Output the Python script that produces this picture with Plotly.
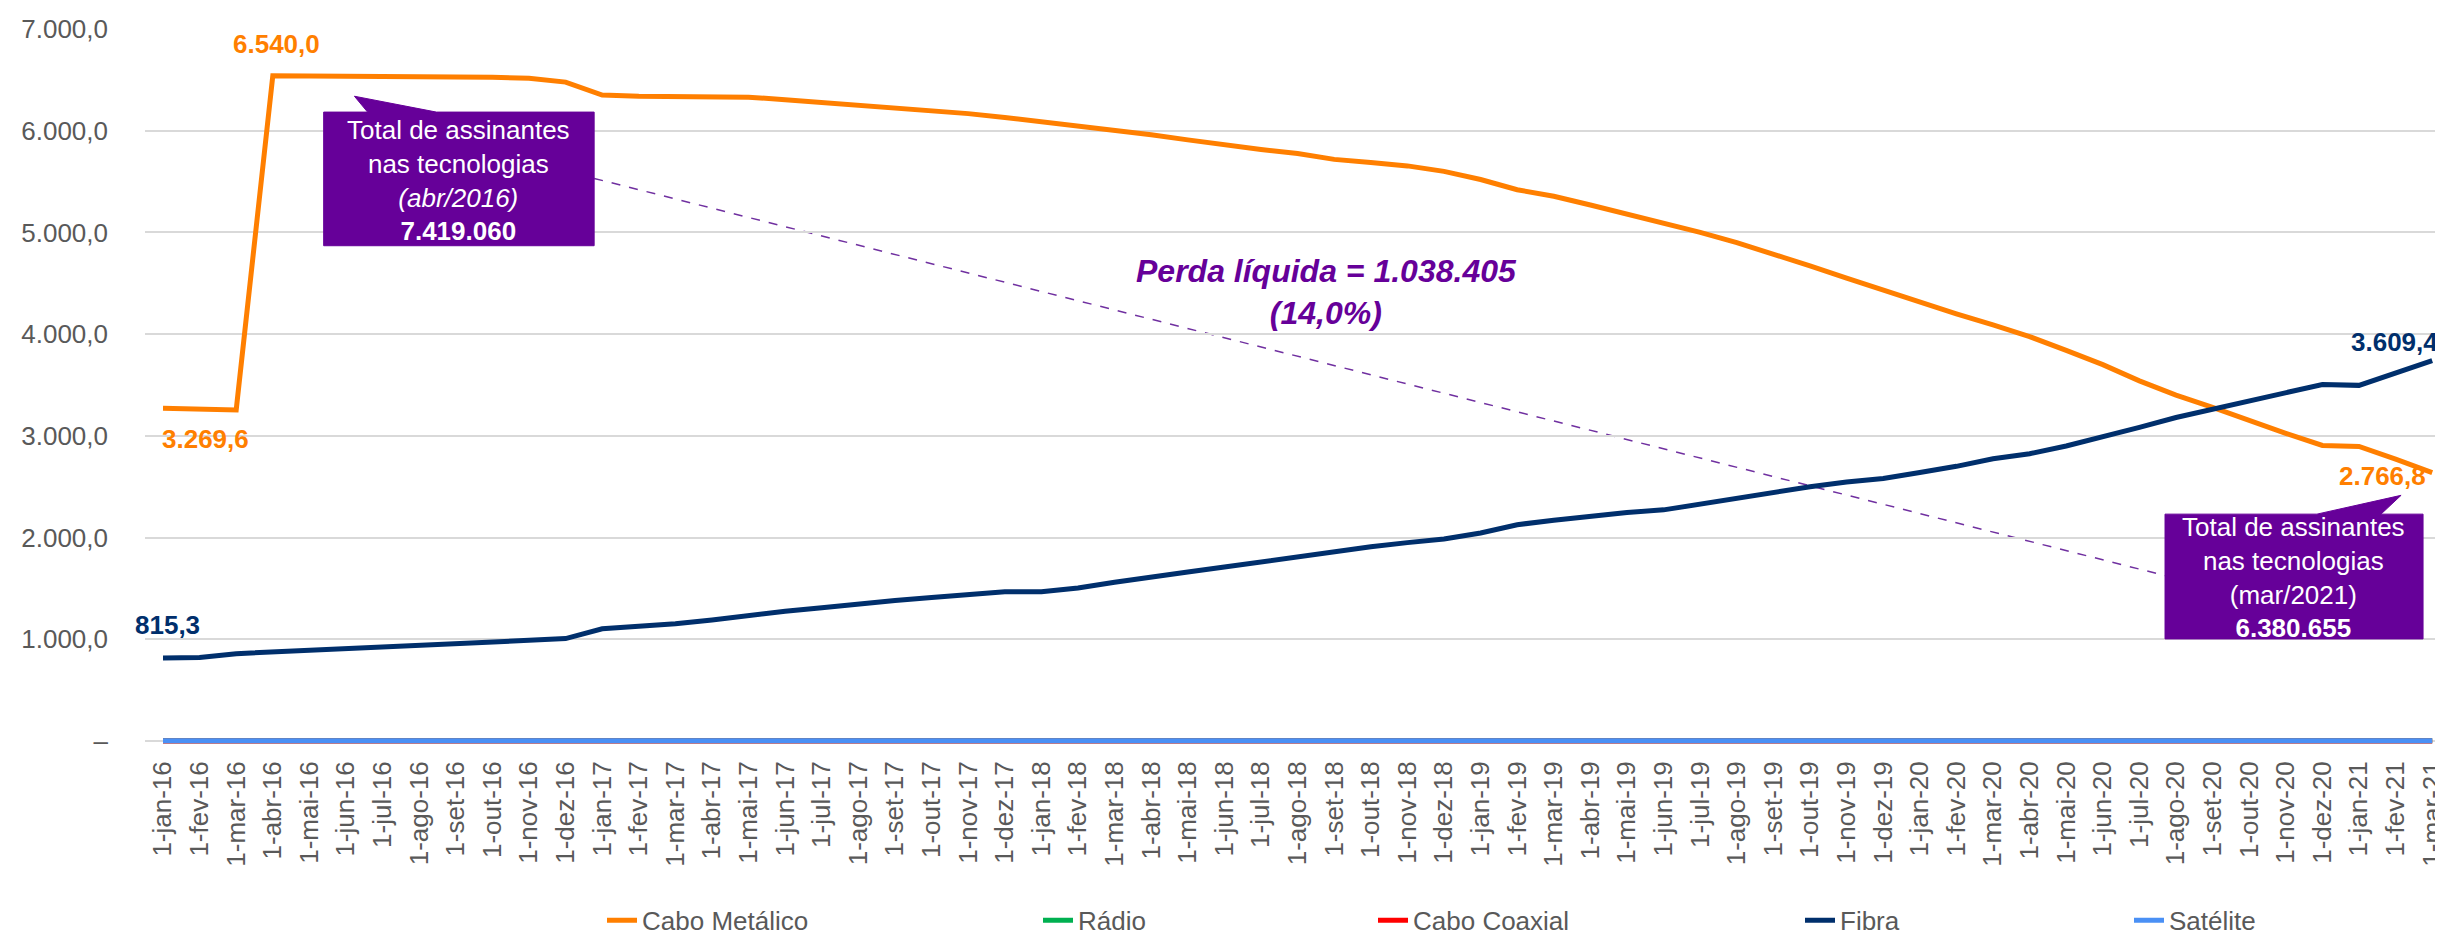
import plotly.graph_objects as go

# categories: monthly, jan/2016 .. mar/2021
months = ["jan", "fev", "mar", "abr", "mai", "jun", "jul", "ago", "set", "out", "nov", "dez"]
categories = [f"1-{m}-{y}" for y in range(16, 22) for m in months][:63]

# subscribers (thousands)
cabo_metalico = [
    3270, 3265, 3255, 6540, 6535, 6532, 6530, 6528, 6527, 6525, 6515, 6478,
    6350, 6338, 6336, 6340, 6330, 6305, 6280, 6255, 6230, 6200, 6168, 6130,
    6088, 6055, 6010, 5960, 5910, 5860, 5815, 5775, 5718, 5688, 5654, 5600,
    5520, 5420, 5355, 5270, 5180, 5100, 5000, 4900, 4790, 4670, 4550, 4430,
    4316, 4200, 4090, 3976, 3840, 3700, 3540, 3400, 3280, 3150, 3025, 2905,
    2895, 2770, 2639,
]
fibra = [
    815, 820, 858, 875, 888, 903, 920, 940, 960, 980, 995, 1006,
    1103, 1128, 1152, 1190, 1235, 1275, 1310, 1350, 1380, 1410, 1440, 1467,
    1467, 1503, 1560, 1616, 1660, 1710, 1760, 1815, 1870, 1910, 1950, 1986,
    2045, 2126, 2170, 2210, 2245, 2272, 2330, 2385, 2440, 2499, 2545, 2580,
    2640, 2700, 2775, 2824, 2900, 2986, 3083, 3180, 3262, 3340, 3424, 3505,
    3496, 3619, 3739,
]
radio = [2.0] * 63
cabo_coaxial = [0.5] * 63
satelite = [1.0] * 63

y_ticks = [0, 1000, 2000, 3000, 4000, 5000, 6000, 7000]
y_ticktext = ["–", "1.000,0", "2.000,0", "3.000,0", "4.000,0", "5.000,0", "6.000,0", "7.000,0"]

GRAY = "#595959"
PURPLE = "#660099"
FONT = "Liberation Sans, Arial, sans-serif"

series = [
    ("Cabo Metálico", cabo_metalico, "#FF7F00"),
    ("Rádio", radio, "#00B050"),
    ("Cabo Coaxial", cabo_coaxial, "#FF0000"),
    ("Fibra", fibra, "#002F6C"),
    ("Satélite", satelite, "#4A90F5"),
]
# left edge (px) of each legend entry
legend_px = [594, 1030, 1365, 1792, 2121]

W, H = 2443, 936
ML, MR, MT, MB = 137, 0, 21, 192
PW = W - ML - MR
PH = H - MT - MB
STEP = 36.6  # px per month
X0 = 18       # px from plot edge to first month

x = list(range(len(categories)))
fig = go.Figure()
for k, (name, vals, color) in enumerate(series):
    leg = "legend" if k == 0 else f"legend{k + 1}"
    fig.add_trace(go.Scatter(
        x=x, y=vals, name=name, mode="lines",
        line=dict(color=color, width=5),
        legend=leg,
    ))

legend_y = (744 - 921) / PH
for k, px in enumerate(legend_px):
    key = "legend" if k == 0 else f"legend{k + 1}"
    fig.update_layout({key: dict(
        x=(px - ML) / PW, y=legend_y, xanchor="left", yanchor="middle",
        orientation="h", bgcolor="rgba(0,0,0,0)",
        font=dict(size=26, color=GRAY, family=FONT),
    )})

# data labels
label_font = dict(size=26, family=FONT)
labels = [
    (3, 6540, "6.540,0", "#FF7F00", "center", 4, 32),
    (0, 3270, "3.269,6", "#FF7F00", "left", -3, -31),
    (0, 815, "815,3", "#002F6C", "center", 4, 33),
    (62, 3739, "3.609,4", "#002F6C", "right", 8, 19),
    (62, 2639, "2.766,8", "#FF7F00", "right", -4, -3),
]
for xi, yv, txt, col, anchor, dx, dy in labels:
    fig.add_annotation(
        x=xi, y=yv, text=f"<b>{txt}</b>", showarrow=False,
        xanchor=anchor, yanchor="middle", xshift=dx, yshift=dy,
        font=dict(color=col, **label_font),
    )

# callout boxes (data coordinates)
boxes = [
    dict(x0=4.39, x1=11.78, y0=4869, y1=6183, tip=(5.23, 6339), base=(5.59, 7.47),
         text="Total de assinantes<br>nas tecnologias<br><i>(abr/2016)</i><br><b>7.419.060</b>",
         tx=8.08, ty=5511),
    dict(x0=54.7, x1=61.75, y0=1003, y1=2230, tip=(61.15, 2415), base=(58.85, 60.6),
         text="Total de assinantes<br>nas tecnologias<br>(mar/2021)<br><b>6.380.655</b>",
         tx=58.2, ty=1611),
]
for b in boxes:
    bx0, bx1 = b["base"]
    tx_, ty_ = b["tip"]
    path = (f"M {b['x0']},{b['y0']} L {b['x0']},{b['y1']} L {bx0},{b['y1']} "
            f"L {tx_},{ty_} L {bx1},{b['y1']} L {b['x1']},{b['y1']} "
            f"L {b['x1']},{b['y0']} Z")
    fig.add_shape(type="path", path=path, xref="x", yref="y",
                  fillcolor=PURPLE, line=dict(color=PURPLE, width=1), layer="above")
    fig.add_annotation(x=b["tx"], y=b["ty"], text=b["text"], showarrow=False,
                       xanchor="center", yanchor="middle", align="center",
                       font=dict(size=26, color="white", family=FONT))

# dashed connector between boxes
fig.add_shape(type="line", xref="x", yref="y", x0=11.78, y0=5531, x1=54.7, y1=1626,
              line=dict(color="#7030A0", width=1.5, dash="dash"), layer="below")

fig.add_annotation(
    x=31.8, y=4411, showarrow=False, xanchor="center", yanchor="middle",
    text="<b><i>Perda líquida = 1.038.405<br>(14,0%)</i></b>",
    font=dict(size=32, color=PURPLE, family=FONT),
)

fig.update_xaxes(
    range=[-X0 / STEP, (PW - X0) / STEP],
    tickvals=x, ticktext=categories, tickangle=-90,
    tickfont=dict(size=26, color=GRAY, family=FONT),
    showgrid=False, zeroline=False, showline=False, ticks="",
    ticklabelstandoff=10, ticklabeloverflow="allow",
)
fig.update_yaxes(
    range=[-40, 7000], tickvals=y_ticks, ticktext=y_ticktext,
    tickfont=dict(size=26, color=GRAY, family=FONT),
    showgrid=True, gridcolor="#D9D9D9", gridwidth=2,
    zeroline=True, zerolinecolor="#D9D9D9", zerolinewidth=2,
    showline=False, ticks="", ticklabelstandoff=36,
)
fig.update_layout(
    width=W, height=H,
    margin=dict(l=ML, r=MR, t=MT, b=MB),
    plot_bgcolor="white", paper_bgcolor="white",
    font=dict(family=FONT, color=GRAY),
    showlegend=True,
)

fig.write_html("out.html")
